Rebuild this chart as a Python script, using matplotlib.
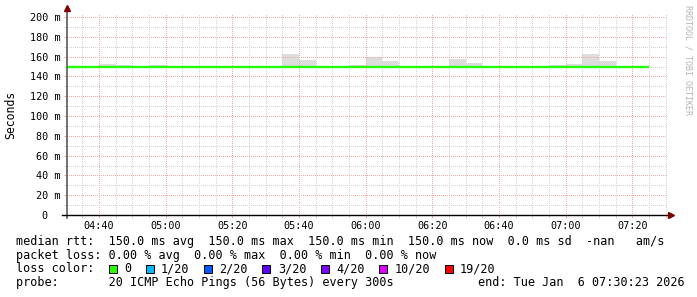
import numpy as np
import matplotlib
matplotlib.use("Agg")
import matplotlib.pyplot as plt
from matplotlib.lines import Line2D
from matplotlib.patches import Rectangle

# median rtt, one value per 5 minute step from 04:30 to 07:20 (ms)
median_start = "04:30"
median_ms = [150.0, 150.0, 150.0, 150.0, 150.0, 150.0, 150.0, 150.0, 150.0, 150.0, 150.0, 150.0,
             150.0, 150.0, 150.0, 150.0, 150.0, 150.0, 150.0, 150.0, 150.0, 150.0, 150.0, 150.0,
             150.0, 150.0, 150.0, 150.0, 150.0, 150.0, 150.0, 150.0, 150.0, 150.0, 150.0]

# smoke (spread of the pings) above the median
smoke_start = ["04:40", "04:45", "04:55", "05:35", "05:40", "05:55", "06:00",
               "06:05", "06:25", "06:30", "06:55", "07:00", "07:05", "07:10"]
smoke_top = [152.5, 151.5, 151.5, 162.5, 156.5, 151.5, 160.0,
             155.5, 157.5, 153.5, 151.5, 152.5, 162.5, 155.5]

x_ticks = ["04:40", "05:00", "05:20", "05:40", "06:00", "06:20", "06:40", "07:00", "07:20"]
y_ticks = [0, 20, 40, 60, 80, 100, 120, 140, 160, 180, 200]
y_labels = ["0  ", "20 m", "40 m", "60 m", "80 m", "100 m", "120 m", "140 m", "160 m", "180 m", "200 m"]

loss_labels = ["0", "1/20", "2/20", "3/20", "4/20", "10/20", "19/20"]
loss_colors = ["#26ff00", "#00b8ff", "#0059ff", "#5e00ff", "#7e00ff", "#dd00ff", "#ff0000"]

legend_rtt = "median rtt:  150.0 ms avg  150.0 ms max  150.0 ms min  150.0 ms now  0.0 ms sd  -nan   am/s"
legend_loss = "packet loss: 0.00 % avg  0.00 % max  0.00 % min  0.00 % now"
legend_probe = "probe:       20 ICMP Echo Pings (56 Bytes) every 300s"
legend_end = "end: Tue Jan  6 07:30:23 2026"
t_begin, t_end = "04:30:23", "07:30:23"


def toMin(s):
    parts = [float(p) for p in s.split(":")]
    m = parts[0] * 60 + parts[1]
    if len(parts) > 2:
        m += parts[2] / 60.0
    return m


W, H = 697, 297
plt.rcParams['font.family'] = ['DejaVu Sans Mono']
fig = plt.figure(figsize=(W / 100, H / 100), dpi=100)

# plot area in pixels
x0, x1, yb, yt = 67, 667, 215, 13
ax = fig.add_axes([x0 / W, 1 - yb / H, (x1 - x0) / W, (yb - yt) / H])
ax.set_xlim(toMin(t_begin), toMin(t_end))
ax.set_ylim(0, (yb - yt) / 0.99)

px = 0.72  # one pixel in points
minor_col = "#d4d4d4"
major_col = "#f0aaaa"

edges = toMin(median_start) + 5 * np.arange(len(median_ms) + 1)
starts = np.array([toMin(s) for s in smoke_start])
tops = np.array(smoke_top)
ax.bar(starts, tops - 150.0, bottom=150.0, width=5, align='edge',
       color="#dddddd", linewidth=0, zorder=1)
ax.stairs(median_ms, edges, baseline=None, color="#26ff00", lw=1.7, zorder=3)

# grid
ax.set_xticks([toMin(t) for t in x_ticks])
ax.set_xticklabels(x_ticks)
ax.set_xticks(np.arange(toMin("04:35"), toMin(t_end), 5), minor=True)
ax.set_yticks(y_ticks)
ax.set_yticklabels(y_labels)
ax.set_yticks(np.arange(10, 205, 20), minor=True)
ax.grid(which='minor', color=minor_col, lw=px, linestyle=(0, (1, 2)),
        antialiased=False, zorder=2)
ax.grid(which='major', color=major_col, lw=px, linestyle=(0, (1, 2)),
        antialiased=False, zorder=2)
ax.set_axisbelow(False)
ax.tick_params(which='major', direction='out', length=3 * px, width=px,
               color=major_col, labelsize=7.3, pad=2.5)
ax.tick_params(which='minor', direction='out', length=3 * px, width=px,
               color=minor_col)
for s in ax.spines.values():
    s.set_visible(False)

# axes with arrows
ax.add_line(Line2D([0, 0], [-3 / 202, 1.015], transform=ax.transAxes,
                   color="#555555", lw=px * 1.6, clip_on=False, zorder=4))
ax.add_line(Line2D([-5 / 600, 1.005], [0, 0], transform=ax.transAxes,
                   color="#000000", lw=px * 1.4, clip_on=False, zorder=4))
ax.plot([0], [1.025], marker='^', ms=4.5, color="#7f0000", transform=ax.transAxes,
        clip_on=False, zorder=5)
ax.plot([1.0067], [0], marker='>', ms=4.5, color="#7f0000", transform=ax.transAxes,
        clip_on=False, zorder=5)

fig.text(11 / W, 1 - 115 / H, "Seconds", rotation=90, ha='center', va='center',
         fontsize=8.3)
fig.text(688 / W, 1 - 60 / H, "RRDTOOL / TOBI OETIKER", rotation=270, ha='center',
         va='center', fontsize=6, color="#b4b4b4")

# legend
lx = 16
fs = 8.5
fig.text(lx / W, 1 - 241.7 / H, legend_rtt, ha='left', va='center', fontsize=fs)
fig.text(lx / W, 1 - 255.3 / H, legend_loss, ha='left', va='center', fontsize=fs)
fig.text(lx / W, 1 - 269 / H, "loss color:", ha='left', va='center', fontsize=fs)
fig.text(lx / W, 1 - 282.7 / H, legend_probe, ha='left', va='center', fontsize=fs)
fig.text(478 / W, 1 - 282.7 / H, legend_end, ha='left', va='center', fontsize=fs)

cw = 7.11
cur = 108.7
for lab, col in zip(loss_labels, loss_colors):
    fig.add_artist(Rectangle((cur / W, 1 - 273 / H), 8 / W, 8 / H, facecolor=col,
                             edgecolor="#000000", lw=px, transform=fig.transFigure))
    tx = cur + 15.3
    fig.text(tx / W, 1 - 269 / H, lab, ha='left', va='center', fontsize=fs)
    cur = tx + len(lab) * cw + 14.6

fig.savefig("out.png", dpi=100, facecolor="white")
